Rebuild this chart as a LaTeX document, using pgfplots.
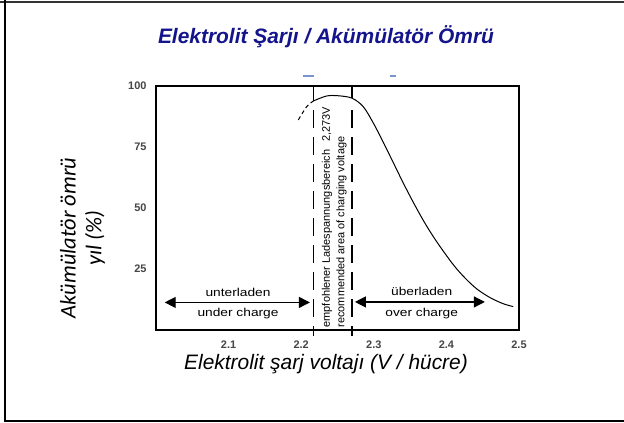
\documentclass[border=0pt]{standalone}
\usepackage{pgfplots}
\pgfplotsset{compat=1.18}
\usepackage{fontspec}
\setmainfont{Liberation Sans}
\newfontfamily\carlito{Carlito}
\usetikzlibrary{arrows.meta}
\definecolor{titleblue}{RGB}{20,20,140}
\definecolor{tickgray}{RGB}{70,70,70}
\begin{document}
\begin{tikzpicture}
\path[use as bounding box] (0bp,0bp) rectangle (624bp,423bp);
\fill[white] (0bp,0bp) rectangle (624bp,423bp);
% outer frame
\draw[line width=2.2bp, black!80] (0bp,421bp) -- (624bp,421bp);
\draw[line width=2bp] (5bp,423bp) -- (5bp,2bp) -- (624bp,2bp);
% title
\node[font=\fontsize{21}{24}\selectfont\bfseries\itshape, text=titleblue] at (326bp,386bp) {Elektrolit Şarjı / Akümülatör Ömrü};
% small blue marks above the axis
\draw[line width=1.4bp, color={rgb,255:red,120;green,150;blue,205}] (303bp,347bp) -- (314bp,347bp);
\draw[line width=1.4bp, color={rgb,255:red,120;green,150;blue,205}] (390bp,347bp) -- (396bp,347bp);
% y label
\node[rotate=90, font=\carlito\fontsize{22.5}{26}\selectfont\itshape] at (68bp,185bp) {Akümülatör ömrü};
\node[rotate=90, font=\carlito\fontsize{22.5}{26}\selectfont\itshape] at (95bp,185bp) {yıl (\%)};
% x label
\node[font=\fontsize{21}{24}\selectfont\itshape] at (326bp,59bp) {Elektrolit şarj voltajı (V / hücre)};
\begin{axis}[
  at={(156bp,93bp)}, anchor=south west,
  width=363bp, height=244bp, scale only axis,
  xmin=2.0, xmax=2.5, ymin=0, ymax=100,
  xtick={2.1,2.2,2.3,2.4,2.5},
  ytick={25,50,75,100},
  major tick length=0pt,
  axis line style={line width=1.6bp},
  tick label style={font=\fontsize{11}{12}\selectfont\bfseries, text=tickgray},
  /pgf/number format/assume math mode=true,
  xticklabel style={yshift=-7.5bp},
  yticklabel style={xshift=-6bp},
  clip=false,
]
% curve: dashed start
\addplot[black, line width=1bp, dash pattern=on 4bp off 3bp, smooth] coordinates {
 (2.196,86.1) (2.2075,91.5) (2.217,93.9)
};
% curve: solid part
\addplot[black, line width=1bp, smooth, tension=0.55] coordinates {
 (2.217,93.9) (2.235,95.9) (2.251,96.0) (2.270,95.0) (2.2855,91.5)
 (2.299,85.0) (2.313,77.0) (2.327,68.5) (2.341,60.0) (2.355,52.0)
 (2.369,44.5) (2.383,37.8) (2.397,31.8) (2.411,26.2) (2.426,21.2)
 (2.442,16.8) (2.460,13.3) (2.478,10.8) (2.492,9.6)
};
% vertical boundaries of recommended band
\addplot[black, line width=1.3bp] coordinates {(2.217,100) (2.217,94)};
\addplot[black, line width=1.3bp] coordinates {(2.270,100) (2.270,95)};
\addplot[black, line width=1.3bp, dash pattern=on 18bp off 9bp] coordinates {(2.217,90) (2.217,0)};
\addplot[black, line width=1.3bp, dash pattern=on 18bp off 9bp] coordinates {(2.270,90) (2.270,0)};
\addplot[black, line width=1.3bp] coordinates {(2.217,1.5) (2.217,-2.5)};
\addplot[black, line width=1.3bp] coordinates {(2.270,1.5) (2.270,-2.5)};
% arrows
\draw[line width=1.2bp, {Triangle[length=11bp,width=11bp]}-{Triangle[length=11bp,width=11bp]}] (axis cs:2.012,11.3) -- (axis cs:2.212,11.3);
\draw[line width=1.2bp, {Triangle[length=11bp,width=11bp]}-{Triangle[length=11bp,width=11bp]}] (axis cs:2.274,11.5) -- (axis cs:2.453,11.5);
% region labels
\node[font=\fontsize{11.5}{12}\selectfont] at (axis cs:2.113,15.6) {\scalebox{1.2}[1]{unterladen}};
\node[font=\fontsize{11.5}{12}\selectfont] at (axis cs:2.113,6.8) {\scalebox{1.2}[1]{under charge}};
\node[font=\fontsize{11.5}{12}\selectfont] at (axis cs:2.366,15.8) {\scalebox{1.2}[1]{überladen}};
\node[font=\fontsize{11.5}{12}\selectfont] at (axis cs:2.366,6.8) {\scalebox{1.2}[1]{over charge}};
% rotated band text
\node[rotate=90, anchor=west, inner sep=0pt, font=\fontsize{11}{12}\selectfont] at (axis cs:2.2355,1) {empfohlener Ladespannungsbereich\hspace{8bp}2,273V};
\node[rotate=90, anchor=west, inner sep=0pt, font=\fontsize{11}{12}\selectfont] at (axis cs:2.2555,1) {recommended area of charging voltage};
\end{axis}
\end{tikzpicture}
\end{document}
